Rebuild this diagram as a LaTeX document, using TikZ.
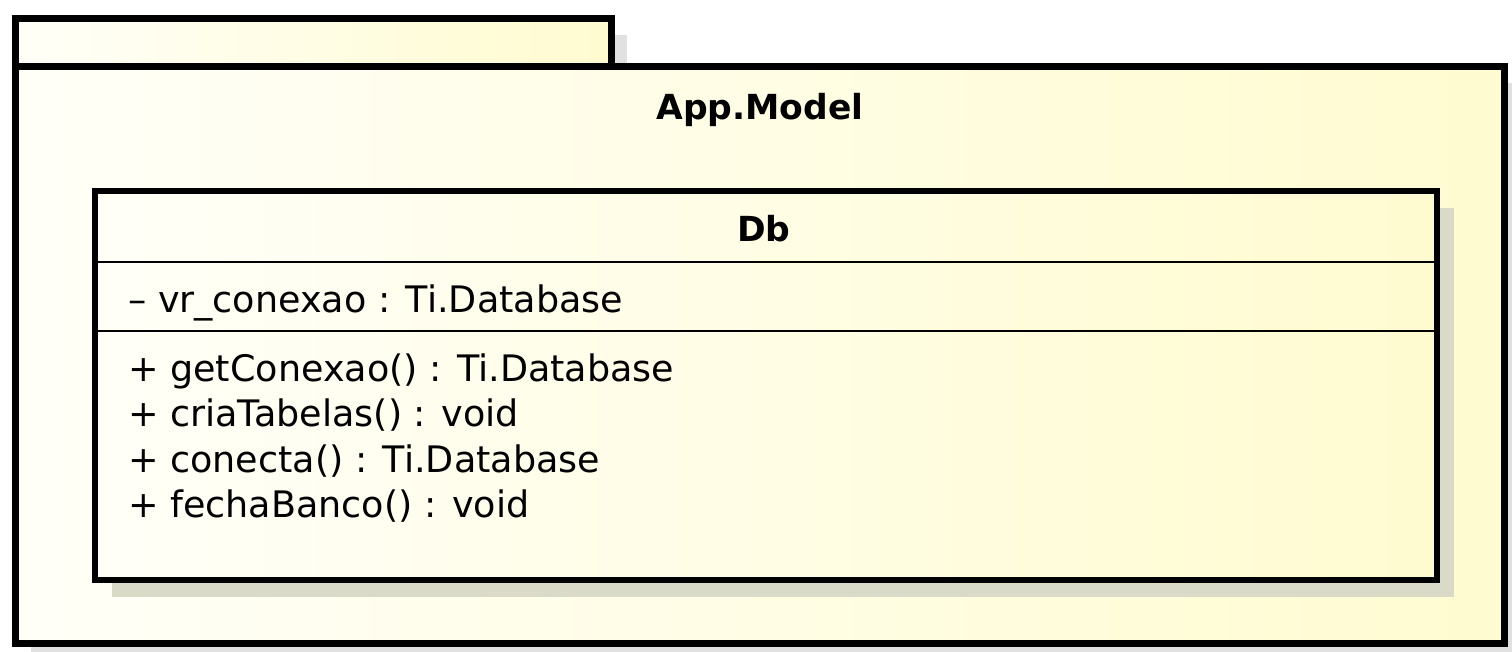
\documentclass[tikz,border=0pt]{standalone}
\usepackage{fontspec}
\setmainfont{DejaVu Sans}
\definecolor{wht}{RGB}{255,255,248}
\definecolor{ylw}{RGB}{255,251,208}
\definecolor{shd}{RGB}{218,218,200}
\definecolor{edge}{RGB}{225,225,225}
\tikzset{
  border/.style={draw=black, line width=7pt, line join=miter},
  classborder/.style={draw=black, line width=6pt, line join=miter},
  sep/.style={draw=black, line width=2.5pt},
  member/.style={anchor=base west, inner sep=0pt, font=\fontsize{36.5}{45}\selectfont},
  title/.style={anchor=base, inner sep=0pt, font=\fontsize{34.5}{42}\selectfont\bfseries},
}
\begin{document}
\begin{tikzpicture}[x=1pt,y=1pt]
\useasboundingbox (0,0) rectangle (1512,652);
\fill[white] (0,0) rectangle (1512,652);
% package shadows
\fill[edge] (31,-20) rectangle (1530,569);
\fill[edge] (31,569) rectangle (627,617);
% tab
\shade[left color=wht, right color=ylw] (15.5,633.5) rectangle (611,585);
\draw[border] (15.5,633.5) rectangle (611,585);
% body
\shade[left color=wht, right color=ylw] (15.5,585) rectangle (1504.5,8.5);
\draw[border] (15.5,585) rectangle (1504.5,8.5);
\node[title] (pkg) at (760,532) {App.Model};
% class shadow
\fill[shd] (112,444) rectangle (1454,55);
% class
\shade[left color=wht, right color=ylw] (95,461) rectangle (1436.5,72);
\coordinate (s1l) at (95,390);
\coordinate (s1r) at (1436.5,390);
\coordinate (s2l) at (95,321);
\coordinate (s2r) at (1436.5,321);
\draw[sep] (s1l) -- (s1r);
\draw[sep] (s2l) -- (s2r);
\draw[classborder] (95,461) rectangle (1436.5,72);
\node[title] (cls) at (764,410) {Db};
\node[member] (a1) at (128,339) {– vr\_conexao : Ti.Database};
\node[member] (o1) at (128,270) {+ getConexao() : Ti.Database};
\node[member] (o2) at (128,225) {+ criaTabelas() : void};
\node[member] (o3) at (128,179) {+ conecta() : Ti.Database};
\node[member] (o4) at (128,134) {+ fechaBanco() : void};
\end{tikzpicture}
\end{document}
